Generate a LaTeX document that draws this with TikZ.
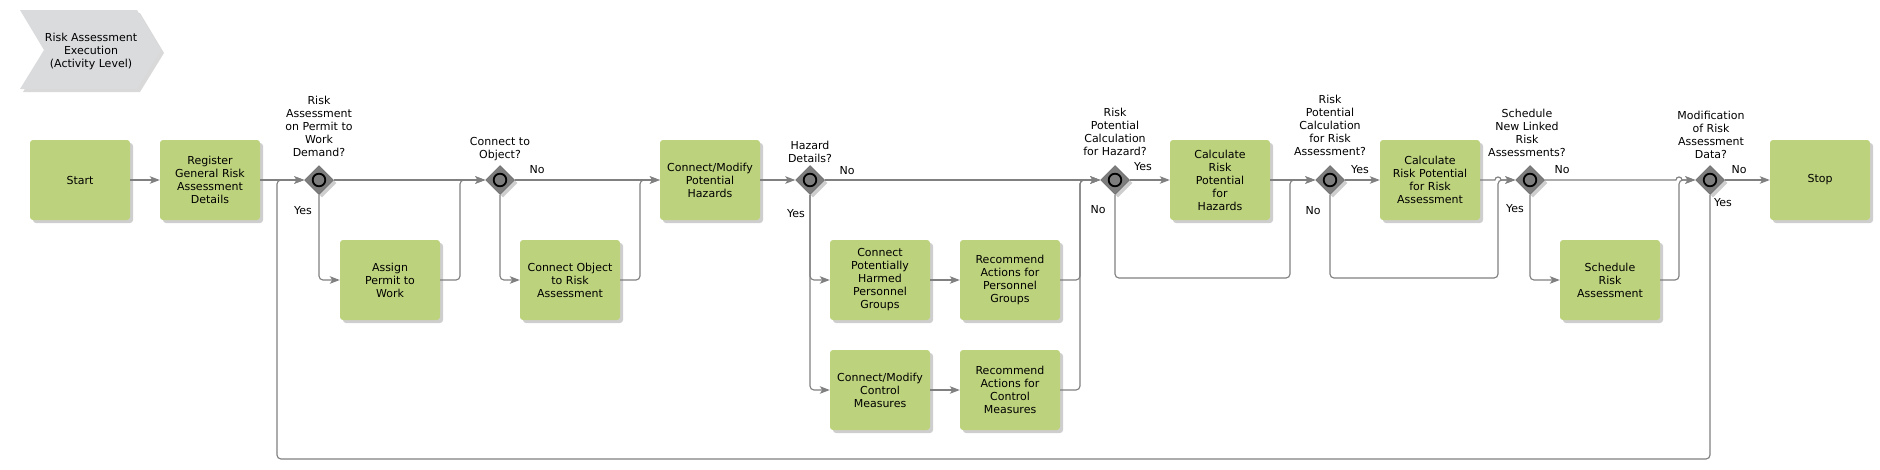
\documentclass[tikz,border=0pt]{standalone}
\usepackage{fontspec}
\setmainfont{DejaVu Sans}
\usetikzlibrary{shadows,arrows.meta,shapes.geometric,calc}
\definecolor{boxgreen}{RGB}{189,210,125}
\definecolor{linegray}{RGB}{128,128,128}
\definecolor{gwgray}{RGB}{125,125,125}
\definecolor{gwedge}{RGB}{100,100,100}
\definecolor{chev}{RGB}{218,219,221}
\begin{document}
\begin{tikzpicture}[x=1pt,y=-1pt,
  every node/.style={font=\fontsize{11}{13}\selectfont},
  task/.style={rectangle, rounded corners=3pt, fill=boxgreen, minimum width=100pt, minimum height=80pt,
    align=center, inner sep=2pt,
    drop shadow={shadow xshift=3pt, shadow yshift=-3pt, opacity=0.35, fill=black!55}},
  gw/.style={diamond, shape aspect=1, minimum size=29pt, inner sep=0pt, fill=gwgray, draw=gwedge, line width=0.5pt,
    drop shadow={shadow xshift=3pt, shadow yshift=-3pt, opacity=0.35, fill=black!55}},
  gwlabel/.style={anchor=south, align=center, inner sep=0pt, text depth=0pt},
  yn/.style={inner sep=0pt},
  flow/.style={draw=linegray, line width=1.15pt, rounded corners=4pt, -{Stealth[length=10pt,width=7.5pt,inset=2.5pt]}}
]
\useasboundingbox (0,0) rectangle (1880,469);

% title chevron
\path[fill=chev, drop shadow={shadow xshift=3pt, shadow yshift=-3pt, opacity=0.3, fill=black!50}]
  (20,10) -- (137,10) -- (161,50) -- (137,89) -- (20,89) -- (44,50) -- cycle;
\node[align=center] (title) at (91,51) {Risk Assessment\\Execution\\(Activity Level)};

% tasks
\node[task] (start) at (80,180) {Start};
\node[task] (reg) at (210,180) {Register\\General Risk\\Assessment\\Details};
\node[task] (assign) at (390,280) {Assign\\Permit to\\Work};
\node[task] (connobj) at (570,280) {Connect Object\\to Risk\\Assessment};
\node[task] (haz) at (710,180) {Connect/Modify\\Potential\\Hazards};
\node[task] (cph) at (880,280) {Connect\\Potentially\\Harmed\\Personnel\\Groups};
\node[task] (rap) at (1010,280) {Recommend\\Actions for\\Personnel\\Groups};
\node[task] (cmc) at (880,390) {Connect/Modify\\Control\\Measures};
\node[task] (rac) at (1010,390) {Recommend\\Actions for\\Control\\Measures};
\node[task] (calch) at (1220,180) {Calculate\\Risk\\Potential\\for\\Hazards};
\node[task] (calcra) at (1430,180) {Calculate\\Risk Potential\\for Risk\\Assessment};
\node[task] (sched) at (1610,280) {Schedule\\Risk\\Assessment};
\node[task] (stop) at (1820,180) {Stop};

% gateways
\foreach \n/\x in {g1/319,g2/500,g3/810,g4/1115,g5/1330,g6/1530,g7/1710}{
  \node[gw] (\n) at (\x,180) {};
  \draw[black, line width=1.8pt] (\n.center) circle (6.3pt);
}

% gateway labels
\node[gwlabel] (l1) at (319,157) {Risk\\Assessment\\on Permit to\\Work\\Demand?};
\node[gwlabel] (l2) at (500,159) {Connect to\\Object?};
\node[gwlabel] (l3) at (810,163) {Hazard\\Details?};
\node[gwlabel] (l4) at (1115,156) {Risk\\Potential\\Calculation\\for Hazard?};
\node[gwlabel] (l5) at (1330,156) {Risk\\Potential\\Calculation\\for Risk\\Assessment?};
\node[gwlabel] (l6) at (1527,157) {Schedule\\New Linked\\Risk\\Assessments?};
\node[gwlabel] (l7) at (1711,159) {Modification\\of Risk\\Assessment\\Data?};

% yes / no labels
\node[yn] (y1) at (303,211) {Yes};
\node[yn] (n2) at (537,170) {No};
\node[yn] (n3) at (847,171) {No};
\node[yn] (y3) at (796,214) {Yes};
\node[yn] (y4) at (1143,167) {Yes};
\node[yn] (n4) at (1098,210) {No};
\node[yn] (y5) at (1360,170) {Yes};
\node[yn] (n5) at (1313,211) {No};
\node[yn] (n6) at (1562,170) {No};
\node[yn] (y6) at (1515,209) {Yes};
\node[yn] (n7) at (1739,170) {No};
\node[yn] (y7) at (1723,203) {Yes};

% helper coordinates
\coordinate (m1) at (460,180);
\coordinate (m2) at (640,180);
\coordinate (m3) at (1080,180);
\coordinate (c4) at (1290,278);
\coordinate (m4) at (1290,180);
\coordinate (c5) at (1498,278);
\coordinate (m5) at (1498,180);
\coordinate (m6) at (1679,180);
\coordinate (lb) at (277,459);
\coordinate (h5a) at (1495,180);
\coordinate (h5b) at (1501,180);
\coordinate (h6a) at (1676,180);
\coordinate (h6b) at (1682,180);

% connectors
\draw[flow] (start.east) -- (reg.west);
\draw[flow] (reg.east) -- (g1.west);
\draw[flow] (g7.south) |- (lb) |- (g1.west);
\draw[flow] (g1.east) -- (g2.west);
\draw[flow] (g1.south) |- (assign.west);
\draw[flow] (assign.east) -| (m1) -- (g2.west);
\draw[flow] (g2.east) -- (haz.west);
\draw[flow] (g2.south) |- (connobj.west);
\draw[flow] (connobj.east) -| (m2) -- (haz.west);
\draw[flow] (haz.east) -- (g3.west);
\draw[flow] (g3.east) -- (g4.west);
\draw[flow] (g3.south) |- (cph.west);
\draw[flow] (g3.south) |- (cmc.west);
\draw[flow] (cph.east) -- (rap.west);
\draw[flow] (cmc.east) -- (rac.west);
\draw[flow] (rap.east) -| (m3) -- (g4.west);
\draw[flow] (rac.east) -| (m3) -- (g4.west);
\draw[flow] (g4.east) -- (calch.west);
\draw[flow] (calch.east) -- (g5.west);
\draw[flow] (g4.south) |- (c4) -- (m4) -- (g5.west);
\draw[flow] (g5.east) -- (calcra.west);
\draw[flow] (g5.south) |- (c5) -- (m5) -- (g6.west);
\draw[flow, rounded corners=0pt] (calcra.east) -- (h5a) .. controls ($(h5a)+(0,-4)$) and ($(h5b)+(0,-4)$) .. (h5b) -- (g6.west);
\draw[flow, rounded corners=0pt] (g6.east) -- (h6a) .. controls ($(h6a)+(0,-4)$) and ($(h6b)+(0,-4)$) .. (h6b) -- (g7.west);
\draw[flow] (g6.south) |- (sched.west);
\draw[flow] (sched.east) -| (m6) -- (g7.west);
\draw[flow] (g7.east) -- (stop.west);

\end{tikzpicture}
\end{document}
